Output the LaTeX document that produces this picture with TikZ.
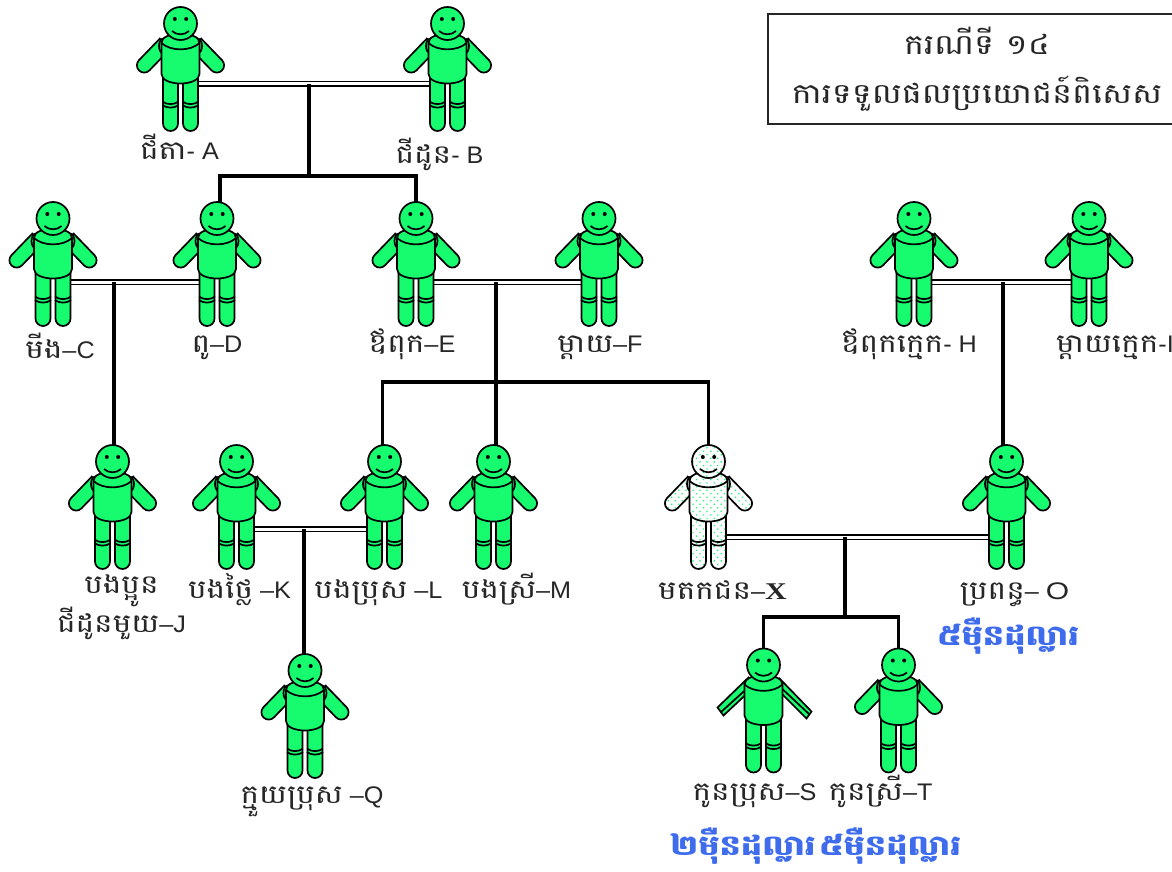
\documentclass[tikz,border=0pt]{standalone}
\usepackage{fontspec}
\usepackage{tikz}
\usetikzlibrary{positioning,patterns.meta}
\setmainfont[FakeStretch=1.05]{Liberation Sans}
\newfontfamily\kh[Script=Khmer,FakeStretch=1.2]{Battambang}
\newfontfamily\wideface[FakeStretch=1.25]{Liberation Sans}
\newfontfamily\serifx[FakeStretch=1.25]{Liberation Serif}
\newcommand{\knm}[1]{{\kh\fontsize{26}{28}\selectfont #1}}
\definecolor{figgreen}{RGB}{22,252,110}
\definecolor{moneyblue}{RGB}{62,108,236}
\tikzstyle{greenbody} = [fill=figgreen]
\tikzstyle{dotbody} = [preaction={fill=white}, pattern={Dots[distance=5pt,radius=.9pt,angle=45]}, pattern color=figgreen]
\tikzstyle{personbox} = [rectangle, minimum width=34pt, minimum height=124pt, inner sep=0pt, outer sep=0pt]
\tikzstyle{namelabel} = [text height=14pt, text depth=8pt, inner sep=0pt, outer sep=0pt, font=\fontsize{24}{26}\selectfont, text=black!85]
\tikzstyle{moneylabel} = [inner sep=0pt, outer sep=0pt, font=\kh\bfseries\fontsize{28}{32}\selectfont, text=moneyblue]
\tikzstyle{titlebox} = [rectangle, draw=black!85, line width=1.5pt, minimum width=418pt, minimum height=110pt, align=center, font=\kh\fontsize{28}{49}\selectfont, text=black!85]
\tikzstyle{marryline} = [double=white, line width=1.7pt, double distance=3pt, draw=black]
\tikzstyle{kidline} = [line width=3.6pt, draw=black]
\newcommand{\figtrunk}{
  % legs
  \foreach \side in {-1,1} {
    \begin{scope}[xscale=\side]
      \draw[figbody] (2.5,-8) -- (2.5,-53.5) arc[start angle=180,end angle=360,radius=7.5] -- (17.5,-8) -- cycle;
      \draw (2,-31.5) .. controls (6,-35) and (14,-35) .. (18,-31.5);
      \draw (2,-35) .. controls (6,-38.5) and (14,-38.5) .. (18,-35);
    \end{scope}
  }
  % torso
  \draw[figbody] (-19,-4) -- (-19,27) .. controls (-19,33) and (-11,36) .. (0,36) .. controls (11,36) and (19,33) .. (19,27) -- (19,-4) .. controls (19,-10) and (10,-13.5) .. (0,-13.5) .. controls (-10,-13.5) and (-19,-10) .. cycle;
  \draw (-19,27) .. controls (-10,18.5) and (10,18.5) .. (19,27);
  % head
  \draw[figbody] (0,46.5) circle (16.5);
  \fill (-5.7,51) circle (2);
  \fill (5.7,51) circle (2);
  \draw (-8.5,39) .. controls (-4,34.6) and (4,34.6) .. (8.5,39);
}
\tikzset{
  pics/figure/.style={code={
    \tikzset{figbody/.style={#1}}
    \begin{scope}[line width=1.7pt]
      % arms
      \foreach \side in {-1,1} {
        \begin{scope}[xscale=\side]
          \draw[figbody, shift={(36.3,4.7)}, rotate=44] (-7.3,30) -- (-7.3,0) arc[start angle=180,end angle=360,radius=7.3] -- (7.3,30) -- cycle;
          \draw[figbody] (17,24) ellipse (4.5 and 7.5);
        \end{scope}
      }
      \figtrunk
    \end{scope}
  }},
  pics/figure/.default=greenbody,
  pics/figureboy/.style={code={
    \tikzset{figbody/.style={greenbody}}
    \begin{scope}[line width=1.7pt]
      % flat arms
      \draw[figbody] (-46,4) -- (-40,-4) -- (-9,25) -- (-15,34) -- cycle;
      \draw (-43,-1) -- (-11,28);
      \draw[figbody] (48,0) -- (43,-7) -- (11,25) -- (16,33) -- cycle;
      \draw (46,-3) -- (13,28);
      \figtrunk
    \end{scope}
  }}
}
\begin{document}
\begin{tikzpicture}[x=1pt,y=1pt]
\useasboundingbox (0,-872) rectangle (1172,0);

% Grandparents
\node[personbox] (A) at (180.5,-70) {};
\node[personbox, right=233pt of A] (B) {};

% Second row
\node[personbox] (C) at (53,-265) {};
\node[personbox, right=130pt of C] (D) {};
\node[personbox, right=165pt of D] (E) {};
\node[personbox, right=149pt of E] (F) {};
\node[personbox, right=281pt of F] (H) {};
\node[personbox, right=141pt of H] (I) {};

% Third row
\node[personbox] (J) at (112.5,-508) {};
\node[personbox, right=90pt of J] (K) {};
\node[personbox, right=114pt of K] (L) {};
\node[personbox, right=75pt of L] (M) {};
\node[personbox, right=181pt of M] (X) {};
\node[personbox, right=264pt of X] (O) {};

% Bottom row
\node[personbox] (Q) at (305,-717) {};
\node[personbox] (S) at (763.5,-711.5) {};
\node[personbox, right=101pt of S] (T) {};

% Junctions
\coordinate (abstem) at (309,-84);
\coordinate (abbar) at (309,-176);
\coordinate (cdstem) at (114,-282);
\coordinate (efstem) at (496,-282);
\coordinate (efbar) at (496,-382);
\coordinate (hostem) at (1003,-282);
\coordinate (klstem) at (304,-529);
\coordinate (xostem) at (845,-537);
\coordinate (xobar) at (845,-617);

% Marriages
\draw[marryline] ([yshift=-14pt]A.east) -- ([yshift=-14pt]B.west);
\draw[marryline] ([yshift=-17pt]C.east) -- ([yshift=-17pt]D.west);
\draw[marryline] ([yshift=-17pt]E.east) -- ([yshift=-17pt]F.west);
\draw[marryline] ([yshift=-17pt]H.east) -- ([yshift=-17pt]I.west);
\draw[marryline] ([yshift=-21pt]K.east) -- ([yshift=-21pt]L.west);
\draw[marryline] ([yshift=-29pt]X.east) -- ([yshift=-29pt]O.west);

% Children
\draw[kidline] (abstem) -- (abbar);
\draw[kidline] ([xshift=3pt]D.north) |- (abbar) -| (E.north);
\draw[kidline] (cdstem) -- (cdstem |- J.north);
\draw[kidline] (efstem) -- (efstem |- M.north);
\draw[kidline] ([xshift=-2pt]L.north) |- (efbar) -| (X.north);
\draw[kidline] (hostem) -- (hostem |- O.north);
\draw[kidline] (klstem) -- (klstem |- Q.north);
\draw[kidline] (xostem) -- (xobar);
\draw[kidline] (S.north) |- (xobar) -| (T.north);

% Figures
\pic at (A) {figure};
\pic at (B) {figure};
\pic at (C) {figure};
\pic at (D) {figure};
\pic at (E) {figure};
\pic at (F) {figure};
\pic at (H) {figure};
\pic at (I) {figure};
\pic at (J) {figure};
\pic at (K) {figure};
\pic at (L) {figure};
\pic at (M) {figure};
\pic at (X) {figure=dotbody};
\pic at (O) {figure};
\pic at (Q) {figure};
\pic at (S) {figureboy};
\pic at (T) {figure};

% Names
\node[namelabel, below=13pt of A, xshift=-1pt] (nameA) {\knm{ជីតា}- A};
\node[namelabel, below=17pt of B, xshift=-8pt] (nameB) {\knm{ជីដូន}- B};
\node[namelabel, below=17pt of C, xshift=7pt] (nameC) {\knm{មីង}–C};
\node[namelabel, below=11pt of D] (nameD) {\knm{ពូ}–D};
\node[namelabel, below=11pt of E, xshift=-4pt] (nameE) {\knm{ឪពុក}–E};
\node[namelabel, below=11pt of F, xshift=1pt] (nameF) {\knm{ម្តាយ}–F};
\node[namelabel, below=11pt of H, xshift=-5pt] (nameH) {\knm{ឪពុកក្មេក}- H};
\node[namelabel, below=11pt of I, xshift=26pt] (nameI) {\knm{ម្តាយក្មេក}-I};
\node[namelabel, below=9pt of J, xshift=9pt] (nameJ) {\knm{បងប្អូន}};
\node[namelabel, below=17pt of nameJ] (nameJJ) {\knm{ជីដូនមួយ}–J};
\node[namelabel, below=14pt of K, xshift=3pt] (nameK) {\knm{បងថ្លៃ} –K};
\node[namelabel, below=14pt of L, xshift=-6pt] (nameL) {\knm{បងប្រុស} –L};
\node[namelabel, below=14pt of M, xshift=23pt] (nameM) {\knm{បងស្រី}–M};
\node[namelabel, below=15pt of X, xshift=14pt] (nameX) {\knm{មតកជន}–{\serifx\bfseries X}};
\node[namelabel, below=15pt of O, xshift=8pt] (nameO) {\knm{ប្រពន្ធ}– {\wideface O}};
\node[namelabel, below=10pt of Q, xshift=7pt] (nameQ) {\knm{ក្មួយប្រុស} –Q};
\node[namelabel, below=13pt of S, xshift=-9pt] (nameS) {\knm{កូនប្រុស}–S};
\node[namelabel, below=13pt of T, xshift=-18pt] (nameT) {\knm{កូនស្រី}–T};

% Amounts
\node[moneylabel] (moneyO) at (1008,-636) {៥ម៉ឺនដុល្លារ};
\node[moneylabel] (moneyS) at (743,-846) {២ម៉ឺនដុល្លារ};
\node[moneylabel] (moneyT) at (890,-846) {៥ម៉ឺនដុល្លារ};

% Title
\node[titlebox] (title) at (977,-69) {ករណីទី ១៤\\ការទទួលផលប្រយោជន៍ពិសេស};
\end{tikzpicture}
\end{document}
